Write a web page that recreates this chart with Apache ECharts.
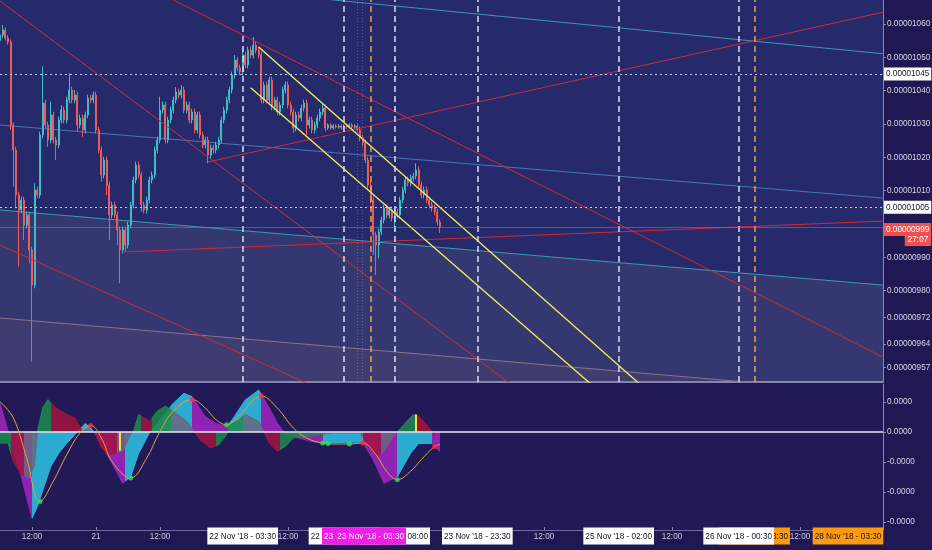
<!DOCTYPE html>
<html><head><meta charset="utf-8">
<script src="https://cdn.jsdelivr.net/npm/echarts@6/dist/echarts.min.js"></script>
<style>html,body{margin:0;padding:0;background:#1f1853;}#c{width:932px;height:550px;}</style>
</head><body><div id="c"></div>
<script>
// ---------- DATA (prices in units of 1e-8, 30-minute candles) ----------
const startTime = '2018-11-20 06:00';
const firstOpen = 1055.0;
const closes = [1056.7,1058.2,1055.8,1054.6,1029.7,1022.2,1008.7,1004.2,1007.2,999.7,
 1002.7,992.2,981.7,1010.2,1008.7,1026.7,1036.3,1029.7,1025.2,1032.7,
 1025.2,1023.7,1031.2,1034.2,1031.2,1037.2,1040.2,1037.2,1038.7,1029.7,
 1031.8,1028.2,1032.7,1037.8,1037.2,1038.7,1028.2,1022.2,1014.7,1019.2,
 1011.7,1002.7,1005.7,1002.7,998.2,992.2,998.2,993.7,999.7,1005.7,
 1013.2,1017.7,1014.7,1005.7,1004.2,1007.2,1013.2,1014.7,1022.2,1025.2,
 1034.2,1035.7,1025.2,1031.2,1034.2,1037.2,1039.6,1038.7,1040.2,1034.2,
 1035.7,1031.2,1033.6,1028.2,1032.7,1026.7,1023.7,1025.2,1020.7,1022.8,
 1022.2,1023.7,1025.2,1031.2,1034.2,1037.2,1040.2,1044.7,1049.2,1046.8,
 1045.6,1050.7,1047.7,1052.2,1050.7,1053.7,1052.2,1050.7,1037.2,1041.7,
 1037.2,1043.2,1035.1,1037.2,1033.6,1035.7,1040.2,1041.7,1035.7,1033.6,
 1028.8,1032.7,1031.8,1034.8,1036.3,1029.7,1031.2,1028.2,1029.7,1031.8,
 1033.6,1034.8,1028.8,1029.7,1028.8,1029.4,1029.1,1029.4,1028.8,1029.4,
 1029.1,1029.7,1029.1,1029.4,1028.2,1025.8,1024.3,1019.2,1011.7,1007.2,
 996.7,993.7,997.6,1001.2,1004.8,1002.7,1004.2,1001.8,1003.6,1002.7,
 1007.2,1010.2,1013.2,1012.3,1013.8,1014.4,1016.2,1011.7,1008.7,1010.2,
 1007.2,1005.7,1004.8,1003.6,1000.6,999.1];
const upperWicks = [1,1.5,0.8,0.8,0.8,0.8,1,1,1,1,
 1,1,1,2,1,1,11,1,1,4,
 1,1,1,1.5,1,1,5,1,1.5,1,
 1,1,1,1,1,1,1,1,1,1,
 1,1,1,1,1,1,1,1,1,1,
 1,1,1,1,1,1,1,1,1,1,
 4,1,1,1,1,1,1.5,1,1.5,1,
 1,1,1,1,1,1,1,1,1,1,
 1,1,1,1,1,1,1,1,1.5,1,
 1,2,1,1,1,2.4,1,1,1,1,
 1,1,1,1,1,1,1,1,1,1,
 1,1,1,1,1,1,1,1,1,1,
 1,1.2,1,0.5,0.5,0.5,0.5,0.5,0.5,0.5,
 0.5,0.5,0.5,0.5,0.5,1,1,1,1,1,
 1,1,1,1,1,1,1,1,1,1,
 1,1,1,1,1,1,2,1,1,1,
 1,1,1,1,1,0.8];
const lowerWicks = [1,0.8,0.8,0.8,1.5,11,4,17,1,4.5,
 1,4,23,1,1,1,1,1,2,1,
 1,4.5,1,1,1,1,1,1,1,2,
 1,2,1,1,1,1,1,1,2,1,
 3,7.5,1,1,4.5,10,1,2,1,1,
 1,1,1,2,1,1,1,1,1,1,
 1,1,1,1,1,1,1,1,1,1,
 1,1,1,1,1,1,1,1,2.5,1,
 1,1,1,1,1,1,1,1,1,1,
 1,1,1,1,1,1,1,1,1,1,
 1,1,1,1,1,1,1,1,1,1,
 1.5,1,1,1,1,3,1,1,1,1,
 1,1,1,0.5,0.5,0.5,0.5,0.5,0.5,0.5,
 0.5,0.5,0.5,0.5,0.5,1,1,1,1,1,
 6,9,4,1,1,1,1,1,4,1,
 1,1,1,1,1,1,1,1,1,1,
 1,1,1,1,1,1.8];

const priceTicks = [1060,1050,1040,1030,1020,1010,990,980,972,964,957];
const hLevels = [1045, 1005];
const countdown = '27:07';

// trend lines: [startTime, startPrice, endTime, endPrice]
const redLines = [
 ['2018-11-20 06:00',1066.9,'2018-11-24 06:00',951.7],
 ['2018-11-21 13:30',1068.0,'2018-11-27 04:00',959.7],
 ['2018-11-20 06:00',993.7,'2018-11-22 16:00',951.9],
 ['2018-11-21 05:00',991.6,'2018-11-27 04:00',1000.9],
 ['2018-11-21 21:00',1018.6,'2018-11-27 04:00',1063.7]
];
const yellowLines = [
 ['2018-11-22 06:30',1053.1,'2018-11-25 06:00',951.9],
 ['2018-11-22 05:00',1040.9,'2018-11-24 22:00',950.3]
];
const blueLines = [
 ['2018-11-20 06:00',1029.7,'2018-11-27 04:00',1007.7],
 ['2018-11-20 06:00',1004.2,'2018-11-27 04:00',981.6],
 ['2018-11-20 06:00',971.8,'2018-11-27 04:00',949.0],
 ['2018-11-22 20:00',1067.3,'2018-11-27 04:00',1051.0]
];
const whiteVTimes = ['2018-11-22 03:30','2018-11-22 22:30','2018-11-23 08:00','2018-11-23 23:30','2018-11-25 02:00','2018-11-26 00:30'];
const orangeVTimes = ['2018-11-23 03:30','2018-11-26 03:30'];
const faintVTimes = ['2018-11-23 01:00','2018-11-23 02:00'];

// x-axis labels
const plainTickTimes = ['2018-11-20 12:00','2018-11-21 00:00','2018-11-21 12:00','2018-11-22 12:00','2018-11-24 12:00','2018-11-25 12:00','2018-11-26 12:00'];
const plainTickLabels = ['12:00','21','12:00','12:00','12:00','12:00','12:00'];
const boxTickTimes = ['2018-11-26 03:30','2018-11-22 03:30','2018-11-22 22:30','2018-11-23 08:00','2018-11-23 01:00','2018-11-23 03:30','2018-11-23 23:30','2018-11-25 02:00','2018-11-26 00:30','2018-11-26 21:00'];
const boxTickLabels = ["26 Nov '18 - 03:30","22 Nov '18 - 03:30","22 Nov '18 - 22:30","23 Nov '18 - 08:00","23 Nov '18 - 01:00","23 Nov '18 - 03:30","23 Nov '18 - 23:30","25 Nov '18 - 02:00","26 Nov '18 - 00:30","28 Nov '18 - 03:30"];
const boxTickKinds = ['o','w','w','w','m','m','w','w','w','o'];

// oscillator pane (units of 1e-9), positions given as candle index
const macdIdx = [0,3,8,12,14,19,22,25,29,32,35,37,42,46,49,52,56,60,65,69,72,77,81,85,87,92,97,101,104,107,112,117,121,125,131,136,140,144,149,154,157,162,165];
const macdVal = [0.96,0.04,-1.49,-2.88,-2.49,-1.16,-0.71,-0.38,0,0.29,0.04,-0.27,-1.04,-1.71,-1.49,-0.71,-0.04,0.4,0.96,1.29,1.18,0.51,0.29,0.18,0.4,1.07,1.4,0.8,0.29,-0.05,-0.2,-0.32,-0.38,-0.36,-0.34,-0.34,-0.93,-1.71,-1.49,-0.71,-0.38,-0.38,-0.66];
const histIdx = [0,3,5,8,11,13,14,16,18,21,25,28,31,33,36,38,41,46,49,50,52,54,56,59,62,65,70,73,75,79,82,85,86,89,92,97,99,101,104,107,110,115,120,125,135,137,141,144,148,149,152,155,157,160,162,165];
const histVal = [-0.37,-0.37,-0.98,-1.42,-1.53,-1.09,0,0.8,1.08,0.8,0.58,0.47,0.02,0.13,-0.09,-0.53,-0.76,-0.64,-0.09,0,0.58,0.47,0.36,0.69,0.86,0.69,0.36,0,-0.26,-0.53,-0.42,-0.09,0.24,0.36,0.58,0.36,0,-0.37,-0.64,-0.48,-0.2,-0.14,-0.09,-0.03,-0.03,-0.31,-0.81,-0.64,-0.09,0,0.3,0.58,0.52,0.24,0.02,-0.42];
const sigIdx = [0,5,10,15,20,25,30,34,38,42,49,55,60,65,72,77,81,85,90,98,104,110,115,121,126,131,136,141,145,149,154,158,163,165];
const sigVal = [1.01,0.47,-0.87,-2.32,-1.64,-0.76,-0.03,0.22,-0.2,-0.98,-1.53,-0.87,0.02,0.69,1.08,0.8,0.41,0.24,0.58,1.2,0.8,0.13,-0.2,-0.37,-0.4,-0.4,-0.37,-0.76,-1.31,-1.59,-1.31,-0.92,-0.48,-0.42];
const dotIdx = [15,34,49,72,85,98,121,123,131,136,149,163];
const dotVal = [-2.32,0.22,-1.53,1.08,0.24,1.2,-0.37,-0.38,-0.4,-0.37,-1.59,-0.48];
const dotKind = ['g','r','g','r','g','r','g','g','g','r','g','r'];
const barIdx = [45,156];
const barVal = [-0.62,0.58];
const macdSegStart = [0,12,35,47,72,86,98,121,136,149,162];
const macdSegKind  = ['p','c','p','c','p','c','p','c','p','c','p'];
const histSegStart = [0,4,9,14,19,31,35,44,50,53,57,64,73,81,91,99,105,121,136,143,149,156,163];
const histSegKind  = ['g','r','y','g','r','y','r','y','g','r','g','y','r','g','y','r','g','y','r','y','g','r','p'];
const oscTicks = [1,0,-1,-2,-3];

// ---------- BUILD ----------
const F = "'Liberation Sans',Roboto,sans-serif";
const FS = 8.2;
function T(s){ return new Date(s.replace(' ','T')+':00').getTime(); }
const HALF = 30*60*1000;
const t0 = T(startTime);
const tIdx = i => t0 + i*HALF;
const xMin = t0, xMax = t0 + 165.5625*3600000;
const fmtPrice = v => (v*1e-8).toFixed(8);

const candleData = closes.map((c,i)=>{
  const o = i===0 ? firstOpen : closes[i-1];
  return [tIdx(i), o, c, Math.min(o,c)-lowerWicks[i], Math.max(o,c)+upperWicks[i]];
});

const COL = {p:'#9424b4', c:'#2bb3d6', g:'#1d8a4c', r:'#a3133f', y:'#6a6680'};
function pieces(starts, kinds){
  return starts.map((s,k)=>{
    const pc = {color: COL[kinds[k]]};
    if (k>0) pc.gte = tIdx(s);
    if (k<starts.length-1) pc.lt = tIdx(starts[k+1]);
    return pc;
  });
}
const seg = l => [[T(l[0]), l[1]], [T(l[2]), l[3]]];

const series = [];
series.push({type:'line', data: seg(blueLines[1]), symbol:'none', silent:true, lineStyle:{width:0}, areaStyle:{origin:'start', color:'rgba(150,140,150,0.20)'}, z:1});
series.push({type:'line', data: seg(blueLines[2]), symbol:'none', silent:true, lineStyle:{width:0}, areaStyle:{origin:'start', color:'rgba(170,110,110,0.12)'}, z:1});

const blueColors = ['#4577b8','#3a9bb0','#8a7488','#3f95ad'];
blueLines.forEach((l,k)=>series.push({type:'line', data: seg(l), symbol:'none', silent:true, lineStyle:{width:1, color: blueColors[k]}, z:2}));

const mlData = [];
whiteVTimes.forEach(t=>mlData.push({xAxis:T(t), lineStyle:{color:'#dcdcf5', width:1.5, type:[6,4]}, label:{show:false}}));
orangeVTimes.forEach(t=>mlData.push({xAxis:T(t), lineStyle:{color:'#f0a03c', width:1.5, type:[6,4]}, label:{show:false}}));
faintVTimes.forEach(t=>mlData.push({xAxis:T(t), lineStyle:{color:'rgba(170,140,220,0.45)', width:1, type:[1,2]}, label:{show:false}}));
hLevels.forEach(v=>mlData.push({yAxis:v, lineStyle:{color:'#c6c6ee', width:1, type:[2,3]},
  label:{show:true, position:'end', distance:1, formatter: p=>fmtPrice(p.value), backgroundColor:'#ffffff', color:'#131722', padding:[3,2,2,2], fontSize:FS, fontFamily:F}}));
const lastPrice = closes[closes.length-1];
mlData.push({yAxis:lastPrice, lineStyle:{color:'rgba(240,85,85,0.55)', width:1, type:'solid'},
  label:{show:true, position:'end', distance:1,
    formatter: p=>'{h|}\n{p|'+fmtPrice(p.value)+'}\n{t|'+countdown+'}',
    rich:{h:{height:15, padding:0}, p:{backgroundColor:'#f0504f', color:'#fff', padding:[3,2,2,2], lineHeight:10, fontSize:FS, fontFamily:F},
          t:{backgroundColor:'#f0504f', color:'#fff', padding:[3,3,2,3], lineHeight:10, fontSize:FS, fontFamily:F, align:'right'}}}});

series.push({type:'candlestick', data: candleData, barWidth:1.4, z:3,
  itemStyle:{color:'#3dbdc6', color0:'#ef5b5b', borderColor:'#3dbdc6', borderColor0:'#ef5b5b', borderWidth:1},
  markLine:{symbol:['none','none'], silent:true, animation:false, data: mlData}});

redLines.forEach(l=>series.push({type:'line', data: seg(l), symbol:'none', silent:true, lineStyle:{width:1, color:'#d3283c'}, z:4}));
yellowLines.forEach(l=>series.push({type:'line', data: seg(l), symbol:'none', silent:true, lineStyle:{width:1.3, color:'#f4f25a'}, z:4}));

const macdSeriesIndex = series.length;
series.push({type:'line', xAxisIndex:1, yAxisIndex:1, data: macdIdx.map((i,k)=>[tIdx(i), macdVal[k]]), symbol:'none', silent:true,
  lineStyle:{width:1}, areaStyle:{opacity:0.95}, z:2});
const histSeriesIndex = series.length;
series.push({type:'line', xAxisIndex:1, yAxisIndex:1, data: histIdx.map((i,k)=>[tIdx(i), histVal[k]]), symbol:'none', silent:true,
  lineStyle:{width:1}, areaStyle:{opacity:0.85}, z:3});
series.push({type:'bar', xAxisIndex:1, yAxisIndex:1, data: barIdx.map((i,k)=>[tIdx(i), barVal[k]]), barWidth:2, silent:true,
  itemStyle:{color:'#f2e03a'}, z:4});
series.push({type:'line', xAxisIndex:1, yAxisIndex:1, data: sigIdx.map((i,k)=>[tIdx(i), sigVal[k]]), symbol:'none', smooth:0.4, silent:true,
  lineStyle:{width:1, color:'#e3a23c'}, z:5,
  markLine:{symbol:['none','none'], silent:true, animation:false, data:[{yAxis:0, lineStyle:{color:'#e6e4f4', width:1.5, type:'solid'}, label:{show:false}}]}});
series.push({type:'scatter', xAxisIndex:1, yAxisIndex:1, symbolSize:5, silent:true, z:6,
  data: dotIdx.map((i,k)=>({value:[tIdx(i), dotVal[k]], itemStyle:{color: dotKind[k]==='g' ? '#2ee05a' : '#ff2a3a'}}))});

// x labels: boxes first, plain time labels painted last
const labelMap = new Map();
boxTickTimes.forEach((t,k)=>labelMap.set(T(t), '{'+boxTickKinds[k]+'|'+boxTickLabels[k]+'}'));
plainTickTimes.forEach((t,k)=>labelMap.set(T(t), '{p|'+plainTickLabels[k]+'}'));
const labelValues = boxTickTimes.map(T).concat(plainTickTimes.map(T));
const boxBase = {fontSize:FS, fontFamily:F, padding:[5,2,4,2], lineHeight:10};

const option = {
  animation:false,
  backgroundColor:'#1f1853',
  grid:[
    {left:0, right:49, top:0, height:382, show:true, backgroundColor:'#262a6b', borderWidth:0, outerBoundsMode:'none', containLabel:false},
    {left:0, right:49, top:384, height:146, show:true, backgroundColor:'#211a57', borderWidth:0, outerBoundsMode:'none', containLabel:false}
  ],
  xAxis:[
    {type:'value', gridIndex:0, min:xMin, max:xMax, axisLabel:{show:false}, axisTick:{show:false}, splitLine:{show:false},
      axisLine:{show:true, onZero:false, lineStyle:{color:'#8784b0', width:2}}},
    {type:'value', gridIndex:1, min:xMin, max:xMax, splitLine:{show:false},
      axisLine:{show:true, onZero:false, lineStyle:{color:'#6d6a98', width:1}},
      axisTick:{show:true, customValues: plainTickTimes.map(T), length:3, inside:true, lineStyle:{color:'#8c89b4'}},
      axisLabel:{show:true, customValues: labelValues, hideOverlap:false, margin:1,
        formatter: v => labelMap.get(v) || '',
        rich:{
          p: Object.assign({}, boxBase, {color:'#cfcde2'}),
          w: Object.assign({}, boxBase, {backgroundColor:'#ffffff', color:'#131722'}),
          m: Object.assign({}, boxBase, {backgroundColor:'#ee1ee6', color:'#ffffff'}),
          o: Object.assign({}, boxBase, {backgroundColor:'#ff9a0e', color:'#131722'})
        }}}
  ],
  yAxis:[
    {type:'value', gridIndex:0, position:'right', min:952.6, max:1067.2, splitLine:{show:false},
      axisLine:{show:true, lineStyle:{color:'#8a87b3'}},
      axisTick:{show:true, customValues: priceTicks, length:3, lineStyle:{color:'#8a87b3'}},
      axisLabel:{customValues: priceTicks, formatter: fmtPrice, color:'#d6d5e6', fontSize:FS, fontFamily:F, margin:4}},
    {type:'value', gridIndex:1, position:'right', min:-3.267, max:1.6, splitLine:{show:false},
      axisLine:{show:true, lineStyle:{color:'#8a87b3'}},
      axisTick:{show:true, customValues: oscTicks, length:3, lineStyle:{color:'#8a87b3'}},
      axisLabel:{customValues: oscTicks, formatter: v => (v*1e-9).toFixed(4), color:'#d6d5e6', fontSize:FS, fontFamily:F, margin:4}}
  ],
  visualMap:[
    {show:false, type:'piecewise', seriesIndex: macdSeriesIndex, dimension:0, pieces: pieces(macdSegStart, macdSegKind)},
    {show:false, type:'piecewise', seriesIndex: histSeriesIndex, dimension:0, pieces: pieces(histSegStart, histSegKind)}
  ],
  series: series
};
const chart = echarts.init(document.getElementById('c'), null, {renderer:'canvas'});
chart.setOption(option);
</script></body></html>
